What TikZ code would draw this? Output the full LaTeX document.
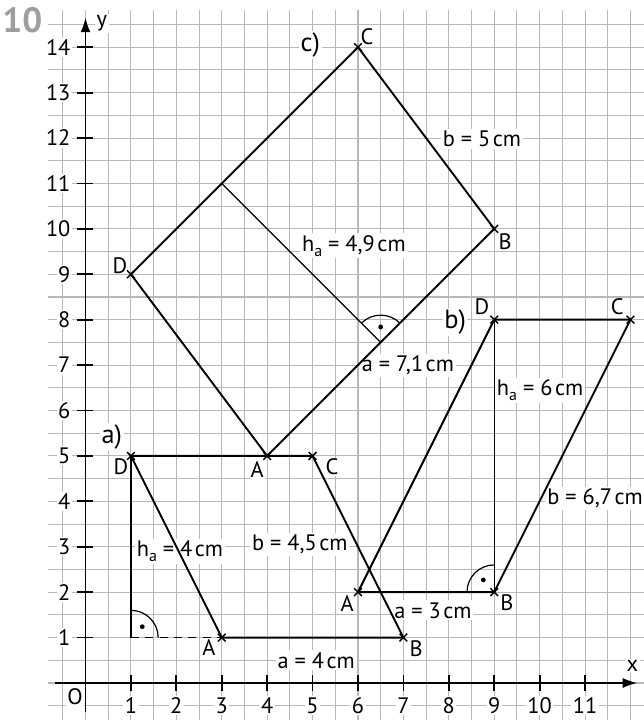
\documentclass[tikz,border=0pt]{standalone}
\usepackage{fontspec}
\setmainfont{PT Sans}
\usetikzlibrary{arrows.meta}
\newcommand{\hsub}{h\raisebox{-0.45ex}{\fontsize{10}{10}\selectfont a}}
\newcommand{\unitgap}{\kern1.6pt}
\begin{document}
\begin{tikzpicture}[x=1cm,y=1cm,
  gridline/.style={draw=black!28, line width=0.65pt},
  axisarrow/.style={line width=1.1pt, -{Latex[length=3.2mm,width=2.2mm]}},
  tickmark/.style={line width=1.1pt},
  fig/.style={line width=1.2pt, line join=round},
  hgt/.style={line width=0.75pt},
  lbl/.style={fill=white, inner sep=1.2pt, font=\fontsize{14}{14}\selectfont},
  ptlbl/.style={fill=white, inner sep=0.6pt, font=\fontsize{14}{14}\selectfont},
  partlbl/.style={fill=white, inner sep=1pt, font=\fontsize{16.5}{16.5}\selectfont},
  ticklbl/.style={fill=white, inner sep=1pt, font=\fontsize{14}{14}\selectfont},
  cross/.pic={\draw[line width=0.9pt] (-0.085,-0.085)--(0.085,0.085) (-0.085,0.085)--(0.085,-0.085);},
  ]
\useasboundingbox (-1.883,-0.815) rectangle (12.28,15.04);
\fill[white] (-1.883,-0.815) rectangle (12.28,15.04);
% grid
\draw[gridline, step=0.5] (-0.83,-0.9) grid (12.35,14.82);
% coordinates
\coordinate (O) at (0,0);
\coordinate (xs) at (-0.67,0); \coordinate (xe) at (12.15,0);
\coordinate (ys) at (0,-0.64); \coordinate (ye) at (0,14.65);
\coordinate (aA) at (3,1); \coordinate (aB) at (7,1); \coordinate (aC) at (5,5); \coordinate (aD) at (1,5); \coordinate (aF) at (1,1);
\coordinate (bA) at (6,2); \coordinate (bB) at (9,2); \coordinate (bC) at (12,8); \coordinate (bD) at (9,8);
\coordinate (cA) at (4,5); \coordinate (cB) at (9,10); \coordinate (cC) at (6,14); \coordinate (cD) at (1,9); \coordinate (cH) at (3,11); \coordinate (cF) at (6.5,7.5);
% task number
\node[font=\fontsize{22}{22}\selectfont\bfseries, text=black!38, inner sep=0pt] (num) at (-1.39,14.6) {10};
% tick labels
\foreach \i in {1,...,11} \node[ticklbl] (xt\i) at (\i,-0.5) {\i};
\foreach \i in {1,...,14} \node[ticklbl, anchor=east] (yt\i) at (-0.29,\i) {\i};
\node[ticklbl] (olbl) at (-0.23,-0.3) {O};
\node[ticklbl] (xlbl) at (12.04,0.37) {x};
\node[ticklbl] (ylbl) at (0.36,14.52) {y};
% labels a)
\node[partlbl] (pa) at (0.58,5.42) {a)};
\node[ptlbl] (laD) at (0.78,4.76) {D};
\node[ptlbl] (laC) at (5.43,4.76) {C};
\node[ptlbl] (laA) at (2.72,0.77) {A};
\node[ptlbl] (laB) at (7.28,0.75) {B};
\node[lbl] (ha) at (2.08,2.9) {\hsub{} = 4\unitgap cm};
\node[lbl] (ba) at (4.72,3.06) {b = 4,5\unitgap cm};
\node[lbl] (aa) at (5.08,0.5) {a = 4\unitgap cm};
% labels b)
\node[partlbl] (pb) at (8.14,7.95) {b)};
\node[ptlbl] (lbD) at (8.73,8.28) {D};
\node[ptlbl] (lbC) at (11.71,8.28) {C};
\node[ptlbl] (lbA) at (5.76,1.76) {A};
\node[ptlbl] (lbB) at (9.28,1.76) {B};
\node[lbl] (hb) at (10.01,6.45) {\hsub{} = 6\unitgap cm};
\node[lbl] (bb) at (11.22,4.07) {b = 6,7\unitgap cm};
\node[lbl] (ab) at (7.65,1.6) {a = 3\unitgap cm};
% labels c)
\node[partlbl] (pc) at (4.95,14.05) {c)};
\node[ptlbl] (lcC) at (6.2,14.23) {C};
\node[ptlbl] (lcB) at (9.24,9.71) {B};
\node[ptlbl] (lcD) at (0.76,9.2) {D};
\node[ptlbl] (lcA) at (3.78,4.69) {A};
\node[lbl] (hc) at (5.91,9.63) {\hsub{} = 4,9\unitgap cm};
\node[lbl] (bc) at (8.73,11.98) {b = 5\unitgap cm};
\node[lbl] (ac) at (7.1,7.0) {a = 7,1\unitgap cm};
% axes
\draw[axisarrow] (xs) -- (xe);
\draw[axisarrow] (ys) -- (ye);
\foreach \i in {1,...,11} \draw[tickmark] (\i,-0.17) -- (\i,0.17);
\foreach \i in {1,...,14} \draw[tickmark] (-0.19,\i) -- (0.17,\i);
% figure a)
\draw[fig] (aA) -- (aB) -- (aC) -- (aD) -- cycle;
\draw[hgt] (aD) -- (aF);
\draw[hgt, dash pattern=on 5pt off 4pt] (aF) -- (aA);
\draw[hgt] ([shift={(0.6,0)}]aF) arc[start angle=0, end angle=90, radius=0.6];
\fill ([shift={(0.25,0.24)}]aF) circle (1.5pt);
% figure b)
\draw[fig] (bA) -- (bB) -- (bC) -- (bD) -- cycle;
\draw[hgt] (bD) -- (bB);
\draw[hgt] ([shift={(-0.6,0)}]bB) arc[start angle=180, end angle=90, radius=0.6];
\fill ([shift={(-0.24,0.27)}]bB) circle (1.5pt);
% figure c)
\draw[fig] (cA) -- (cB) -- (cC) -- (cD) -- cycle;
\draw[hgt] (cH) -- (cF);
\draw[hgt] ([shift={(0.4243,0.4243)}]cF) arc[start angle=45, end angle=135, radius=0.6];
\fill ([shift={(0,0.34)}]cF) circle (1.5pt);
% crosses
\foreach \p in {aA,aB,aC,aD,bA,bB,bC,bD,cA,cB,cC,cD} \pic at (\p) {cross};
\end{tikzpicture}
\end{document}
